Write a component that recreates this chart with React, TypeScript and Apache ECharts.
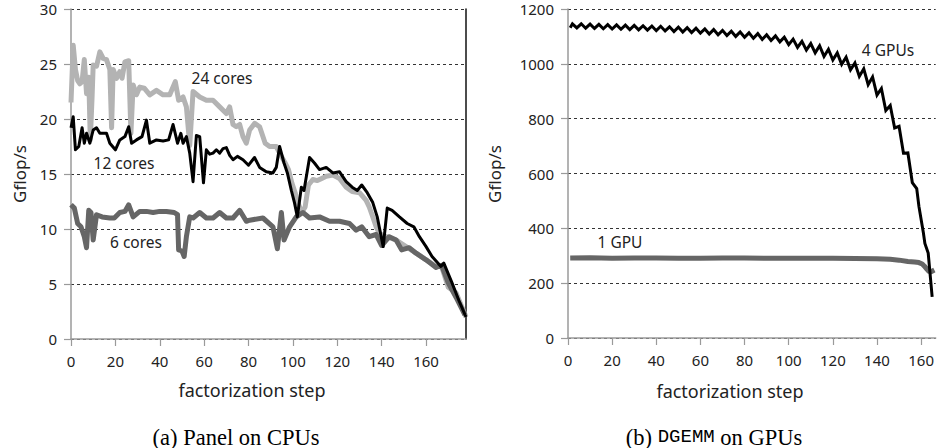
import React, { useEffect, useRef } from "react";
import * as echarts from "echarts";

// ---- tick labels ----
const stepTicks = [0, 20, 40, 60, 80, 100, 120, 140, 160];

// ---- (a) Panel on CPUs : [factorization step, Gflop/s] ----
const cores24: number[][] = [
  [0, 21.5], [1, 26.7], [2, 24.5], [3, 23.5], [4, 23.2], [5, 23.4], [6, 25.4], [7, 22.3], [8, 23.8], [8.7, 18.1],
  [9.5, 22], [10, 24.9], [11.5, 24.8], [13, 26.1], [14.5, 25.5], [16, 25.4], [17.5, 24.5], [18.3, 19.2], [19, 24.5],
  [20.5, 23.7], [22, 24.3], [23, 23.7], [24.3, 25.2], [26, 25.3], [27, 18.7], [28, 23.1], [29.5, 22.2], [31, 22.9],
  [33, 22.8], [35.5, 22.2], [38.5, 22.6], [41.5, 22.2], [44.5, 22.2], [47, 23.4], [48.5, 21.7], [50.5, 22], [52, 21.1],
  [53.5, 17.6], [55, 22.5], [58, 22], [61, 21.7], [64, 21.7], [67, 21.1], [70, 20.5], [71.5, 21.1], [73, 19.5],
  [74.5, 19.3], [76, 19.5], [77.5, 18.4], [79, 17.8], [80.5, 19], [82.8, 19.6], [85, 19.3], [87.5, 17.8], [89.5, 17.5],
  [92.5, 17.5], [94, 16.9], [96.5, 16], [98, 15.4], [99.5, 14.2], [101, 13.3], [102, 12.5], [104, 11.5], [105.5, 12],
  [107, 14], [109, 14.5], [111, 14.4], [113, 14.6], [115, 14.8], [118, 14.9], [121, 14.6], [124, 13.8], [126.7, 13.4],
  [130, 13.3], [133, 12.6], [134.4, 12], [136, 11.1], [137.5, 10.2], [139, 9.6], [142, 9.3], [146.5, 9], [151, 8.4],
  [155.5, 7.8], [160, 7.2], [164.5, 6.6], [167, 6.6], [170, 4.7], [173.5, 4.2], [178, 2.0]
];

const cores12: number[][] = [
  [0, 19.2], [1, 20.2], [2, 17.2], [3.5, 17.5], [5, 19.2], [6, 17.8], [7, 18.7], [8.5, 17.8], [10, 19], [11.5, 19.2],
  [13, 18.7], [16, 18.7], [17.5, 17.8], [20, 17.2], [22, 18.1], [24.3, 18.4], [26, 19.3], [27.3, 17.8], [29.5, 18.1],
  [32, 18.4], [34, 19.9], [35.5, 17.8], [38.5, 18.1], [41.5, 18], [44, 18.1], [46, 19.5], [48, 17.8], [49.5, 18.7],
  [50.5, 17.8], [52, 18.4], [53.5, 16.9], [55, 14.3], [56.5, 18.5], [58, 18.4], [59.7, 14.2], [61, 17.2], [62.5, 16.8],
  [64, 16.9], [65.5, 17.2], [67, 16.9], [68.5, 17.3], [70, 17.4], [71.5, 16.7], [73, 16.3], [75, 16.6], [77.5, 16.3],
  [80, 15.8], [82.7, 16.5], [85, 15.6], [88, 15.2], [91, 15.1],
  [92.5, 15.6], [94, 17.5], [96, 16], [97.5, 15.1], [99.3, 13.5], [100.7, 12.4], [102, 11.1], [103.8, 13.8], [105, 13.5],
  [107.5, 16.5], [109.7, 16], [112, 15.4], [115, 15.6], [118, 15.1], [121, 15.2], [124, 14.3], [126.7, 13.8], [129, 13.5],
  [131, 14], [133.5, 13.3], [136, 12.4], [138, 11.1], [139.8, 9.3], [140.7, 8.4], [142.5, 11.9], [144.7, 11.7], [148, 11.1],
  [151.5, 10.5], [154.5, 10.2], [157, 9.3], [160, 8.4], [162.7, 7.5], [166.7, 6.6], [168, 6.9], [171.7, 5.1], [174.8, 3.5],
  [178, 2.0]
];

const cores6: number[][] = [
  [0, 12.2], [1.5, 11.9], [3, 10.5], [4.5, 10.2], [6, 9.3], [7, 8.3], [8, 11.7], [9, 11.5], [10, 9], [11.5, 11.3],
  [14, 11.1], [17.5, 11], [19.5, 11], [22, 11.5], [24.3, 11.6], [26, 12.2], [28, 11.1], [31, 11.6], [34, 11.6], [37, 11.5],
  [40, 11.6], [43, 11.6], [46.5, 11.5], [48, 11.3], [48.5, 8.1], [50, 8], [51, 7.5], [52, 9.3], [53.5, 11.1], [55, 11],
  [58, 11.5], [61, 11], [64, 11], [67, 11.5], [70, 11], [73, 11], [76, 11.7], [79, 10.7], [80.5, 10.8], [86.5, 11],
  [91, 10.2], [93, 8.2], [94.8, 11.5], [96, 9], [98.5, 10.2], [101.5, 11.1], [104.5, 11.5], [107.5, 11], [112, 11.1],
  [116.5, 10.7], [121, 10.7], [125.5, 10.5], [128.5, 9.9], [131, 10.2], [134.4, 9.3], [137.5, 9.5], [140, 8.5], [143.4, 9.3],
  [146.5, 9], [149, 8.1], [152.4, 8.3], [155.5, 7.8], [160, 7.2], [164.5, 6.5], [167, 6.7], [170, 5.1], [173.5, 3.8],
  [177.5, 2.2]
];

// ---- (b) DGEMM on GPUs : [factorization step, Gflop/s] ----
const gpu4: number[][] = [
  [1, 1132], [2, 1146], [4, 1131], [6, 1146], [8, 1130], [10, 1145], [12, 1129], [14, 1144], [16, 1128], [18, 1143],
  [20, 1127], [22, 1142], [24, 1126], [26, 1141], [28, 1125], [30, 1140], [32, 1124], [34, 1139], [36, 1123], [38, 1138],
  [40, 1121], [42, 1137], [44, 1120], [46, 1135], [48, 1118], [50, 1134], [52, 1116], [54, 1132], [56, 1114], [58, 1130],
  [60, 1112], [62, 1127], [64, 1109], [66, 1125], [68, 1106], [70, 1122], [72, 1103], [74, 1119], [76, 1100], [78, 1116],
  [80, 1097], [82, 1113], [84, 1093], [86, 1110], [88, 1089], [90, 1106], [92, 1085], [94, 1102], [96, 1080], [98, 1097],
  [100, 1070], [102, 1090], [104, 1060], [106, 1082], [108, 1050], [110, 1074], [112, 1040], [114, 1066], [116, 1027],
  [118, 1053], [120, 1014], [122, 1040], [124, 998], [126, 1024], [128, 978], [130, 1003], [132, 954], [134, 982],
  [136, 924], [138, 952], [140, 886], [142, 910], [144, 830], [146, 848], [148, 766], [150, 772], [152, 674], [154, 675],
  [156, 567], [158, 545], [159, 480], [161, 385], [161.7, 345], [163.2, 310], [165, 150]
];

const gpu1: number[][] = [
  [1, 292], [10, 293], [20, 291], [30, 292], [40, 292], [50, 291], [60, 291], [70, 292], [80, 292], [90, 291],
  [100, 291], [110, 291], [120, 291], [130, 290], [140, 289], [146, 287], [150, 284], [154, 279], [157, 277], [159, 275],
  [160.5, 270], [161.5, 262], [162.5, 252], [163.5, 243], [164.5, 242], [166, 248]
];

const FONT = "'Noto Sans', 'DejaVu Sans', sans-serif";
const GRID_LINE = { type: [3, 3] as any, color: "#333", width: 1 };
const AXIS_GRAY = "#9a9a9a";

export default function App() {
  const ref = useRef<HTMLDivElement>(null);

  useEffect(() => {
    if (!ref.current) return;
    const chart = echarts.init(ref.current, undefined, { renderer: "svg" });

    const xAxisBase = (gridIndex: number, max: number) => ({
      type: "value",
      gridIndex,
      min: 0,
      max,
      axisLine: { show: true, lineStyle: { color: AXIS_GRAY, width: 1.5 } },
      axisTick: { show: true, length: 7, customValues: stepTicks, lineStyle: { color: AXIS_GRAY, width: 1.2 } },
      axisLabel: { customValues: stepTicks, margin: 14, fontSize: 15, color: "#222", fontFamily: FONT },
      splitLine: { show: false },
    });

    const yAxisBase = (gridIndex: number, max: number, interval: number) => ({
      type: "value",
      gridIndex,
      min: 0,
      max,
      interval,
      axisLine: { show: true, lineStyle: { color: AXIS_GRAY, width: 1.5 } },
      axisTick: { show: true, length: 7, lineStyle: { color: AXIS_GRAY, width: 1.2 } },
      axisLabel: {
        margin: 14, fontSize: 15, color: "#222", fontFamily: FONT,
        formatter: (v: number) => String(v),
      },
      splitLine: { show: true, lineStyle: GRID_LINE },
    });

    const label = (text: string, x: number, y: number) => ({
      type: "text",
      x,
      y,
      silent: true,
      style: { text, fill: "#222", font: `15.5px ${FONT}`, align: "center", verticalAlign: "middle" },
    });

    chart.setOption({
      animation: false,
      backgroundColor: "#fff",
      grid: [
        { left: 71, top: 9, width: 395, height: 330 },
        { left: 568, top: 9, width: 370, height: 329 },
      ],
      xAxis: [xAxisBase(0, 178), xAxisBase(1, 166.6)],
      yAxis: [
        yAxisBase(0, 30, 5),
        {
          type: "value",
          gridIndex: 0,
          position: "right",
          min: 0,
          max: 30,
          interval: 5,
          axisLine: { show: true, lineStyle: { color: "#111", width: 1.5 } },
          axisTick: { show: false },
          axisLabel: { show: false },
          splitLine: { show: false },
        },
        yAxisBase(1, 1200, 200),
      ],
      series: [
        {
          name: "24 cores", type: "line", xAxisIndex: 0, yAxisIndex: 0, data: cores24, showSymbol: false,
          lineStyle: { color: "#b3b3b3", width: 5, join: "round" },
        },
        {
          name: "6 cores", type: "line", xAxisIndex: 0, yAxisIndex: 0, data: cores6, showSymbol: false,
          lineStyle: { color: "#666", width: 5, join: "round" },
        },
        {
          name: "12 cores", type: "line", xAxisIndex: 0, yAxisIndex: 0, data: cores12, showSymbol: false,
          lineStyle: { color: "#000", width: 3, join: "round" },
        },
        {
          name: "1 GPU", type: "line", xAxisIndex: 1, yAxisIndex: 2, data: gpu1, showSymbol: false,
          lineStyle: { color: "#666", width: 5, join: "round" },
        },
        {
          name: "4 GPUs", type: "line", xAxisIndex: 1, yAxisIndex: 2, data: gpu4, showSymbol: false,
          lineStyle: { color: "#000", width: 3, join: "miter" },
        },
      ],
      graphic: [
        label("24 cores", 222, 78),
        label("12 cores", 124, 163),
        label("6 cores", 136, 242),
        label("4 GPUs", 888, 50),
        label("1 GPU", 620, 242),
        {
          type: "text", x: 252, y: 390, silent: true,
          style: { text: "factorization step", fill: "#222", font: `18px ${FONT}`, align: "center", verticalAlign: "middle" },
        },
        {
          type: "text", x: 730, y: 391, silent: true,
          style: { text: "factorization step", fill: "#222", font: `18px ${FONT}`, align: "center", verticalAlign: "middle" },
        },
        {
          type: "text", x: 19, y: 174, rotation: Math.PI / 2, silent: true,
          style: { text: "Gflop/s", fill: "#222", font: `17px ${FONT}`, align: "center", verticalAlign: "middle" },
        },
        {
          type: "text", x: 494, y: 174, rotation: Math.PI / 2, silent: true,
          style: { text: "Gflop/s", fill: "#222", font: `17px ${FONT}`, align: "center", verticalAlign: "middle" },
        },
        {
          type: "text", x: 236, y: 437, silent: true,
          style: { text: "(a) Panel on CPUs", fill: "#000", font: "22.5px 'Liberation Serif', 'DejaVu Serif', serif", align: "center", verticalAlign: "middle" },
        },
        {
          type: "text", x: 714, y: 437, silent: true,
          style: {
            text: "{s|(b) }{m|DGEMM}{s| on GPUs}",
            fill: "#000",
            align: "center",
            verticalAlign: "middle",
            rich: {
              s: { fontFamily: "'Liberation Serif', 'DejaVu Serif', serif", fontSize: 22.5, fill: "#000" },
              m: { fontFamily: "'Liberation Mono', 'DejaVu Sans Mono', monospace", fontSize: 19, fill: "#000" },
            },
          },
        },
      ],
    });

    return () => chart.dispose();
  }, []);

  return (
    <div
      ref={ref}
      style={{ position: "fixed", left: 0, top: 0, width: 937, height: 448, background: "#fff" }}
    />
  );
}
